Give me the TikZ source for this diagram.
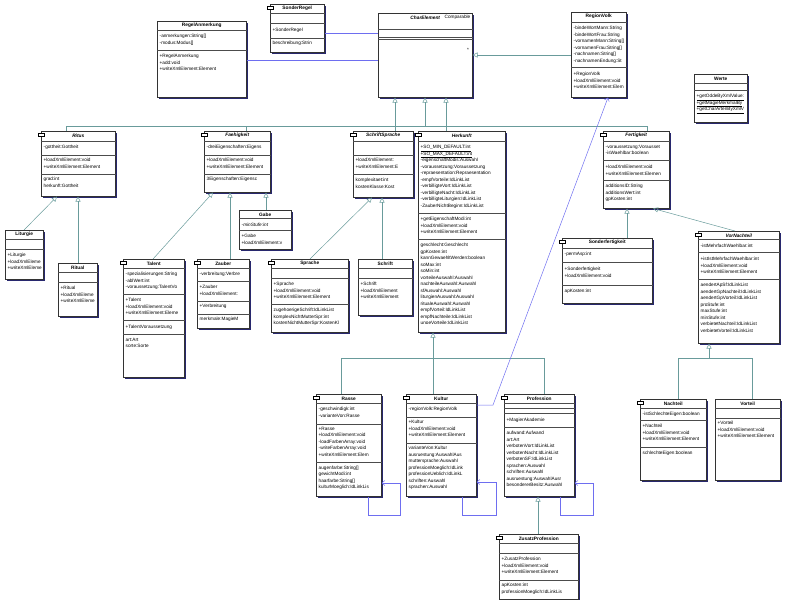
\documentclass[tikz,border=0pt]{standalone}
\usepackage{fontspec}
\setmainfont{Liberation Sans}
\usetikzlibrary{arrows.meta,shadows}
\definecolor{erbfarbe}{RGB}{105,155,155}
\definecolor{assfarbe}{RGB}{110,110,240}
\definecolor{schatten}{RGB}{40,40,110}

\tikzset{
  box/.style={draw=black!80, fill=white, line width=0.5pt, inner sep=0pt, anchor=north west,
    drop shadow={shadow xshift=1.3pt, shadow yshift=-1.3pt, fill=schatten, opacity=1}},
  titel/.style={font=\fontsize{4.8}{5.5}\selectfont\bfseries, inner sep=0pt},
  zeile/.style={anchor=north west, inner sep=0pt, align=left, font=\fontsize{4.7}{6.5}\selectfont},
  trennlinie/.style={draw=black!70, line width=0.4pt},
  erbt/.style={draw=erbfarbe, line width=0.5pt, -{Triangle[open,length=5pt,width=5pt]}},
  linie/.style={draw=erbfarbe, line width=0.5pt},
  assoz/.style={draw=assfarbe, line width=0.5pt},
  pfeil/.style={assoz, -{Straight Barb[length=3pt,width=5pt]}}
}
% Klasse: Name, x0, y0, x1, y1, Titel
\newcommand\klasse[6]{%
  \node[box, minimum width={(#4-#2)*1pt}, minimum height={(#5-#3)*1pt}] (#1) at (#2,#3) {};
  \node[titel] (#1-t) at ([yshift=-4.6pt]#1.north) {#6};}
\newcommand\trenn[2]{\draw[trennlinie] (#1.west |- 0,#2) -- (#1.east |- 0,#2);}
\newcommand\zeilen[4]{\node[zeile, xshift=2.5pt] (#1-#2) at (#1.west |- 0,#3) {#4};}
\newcommand\paket[1]{\draw[fill=white, line width=0.4pt] ([xshift=-2.5pt,yshift=-2pt]#1.north west) rectangle ++(6pt,-3.5pt);}

\begin{document}
\begin{tikzpicture}[x=1pt, y=-1pt]
\useasboundingbox (0,0) rectangle (785,600);

% obere Reihe
\klasse{regelanm}{157}{21}{246}{97}{RegelAnmerkung}
\trenn{regelanm}{30} \trenn{regelanm}{50}
\zeilen{regelanm}{a}{34}{-anmerkungen:String[]\\-modus:Modus[]}
\zeilen{regelanm}{m}{54}{+RegelAnmerkung\\+add:void\\+writeXmlElement:Element}

\klasse{sonderregel}{270}{4}{324}{52}{SonderRegel}
\paket{sonderregel}
\trenn{sonderregel}{13} \trenn{sonderregel}{23} \trenn{sonderregel}{38}
\zeilen{sonderregel}{m}{27.5}{+SonderRegel}
\zeilen{sonderregel}{a}{40.5}{beschreibung:Strin}

\klasse{charelement}{378}{13}{472}{97}{\itshape CharElement}
\node[zeile, anchor=north east, xshift=-2pt, yshift=-1.5pt] (charelement-c) at (charelement.north east) {Comparable};
\trenn{charelement}{29} \trenn{charelement}{37} \trenn{charelement}{39}
\node[zeile] (charelement-s) at (467,48) {*};

\klasse{regionvolk}{571}{12}{626}{97}{RegionVolk}
\trenn{regionvolk}{22} \trenn{regionvolk}{67}
\zeilen{regionvolk}{a}{26}{-bindeWortMann:String\\-bindeWortFrau:String\\-vornamenMann:String[]\\-vornamenFrau:String[]\\-nachnamen:String[]\\-nachnamenEndung:St}
\zeilen{regionvolk}{m}{72}{+RegionVolk\\+loadXmlElement:void\\+writeXmlElement:Elem}

\klasse{werte}{694}{74}{747}{122}{Werte}
\trenn{werte}{83} \trenn{werte}{90}
\zeilen{werte}{m}{94}{\underline{+getOddeByXmlValue:}\\\underline{+getMagieMerkmalBy}\\\underline{+getCharArtenByXmlV}}

% zweite Reihe
\klasse{ritus}{41}{131}{115}{196}{\itshape Ritus}
\paket{ritus}
\trenn{ritus}{141} \trenn{ritus}{155} \trenn{ritus}{174}
\zeilen{ritus}{a}{145}{-gottheit:Gottheit}
\zeilen{ritus}{m}{158}{+loadXmlElement:void\\+writeXmlElement:Element}
\zeilen{ritus}{p}{177}{grad:int\\herkunft:Gottheit}

\klasse{faehigkeit}{204}{131}{270}{192}{\itshape Faehigkeit}
\paket{faehigkeit}
\trenn{faehigkeit}{141} \trenn{faehigkeit}{155} \trenn{faehigkeit}{174}
\zeilen{faehigkeit}{a}{145}{-dreiEigenschaften:Eigens}
\zeilen{faehigkeit}{m}{158}{+loadXmlElement:void\\+writeXmlElement:Element}
\zeilen{faehigkeit}{p}{177}{3Eigenschaften:Eigensc}

\klasse{gabe}{239}{210}{291}{249}{Gabe}
\trenn{gabe}{218} \trenn{gabe}{230}
\zeilen{gabe}{a}{222.5}{\itshape -minStufe:int}
\zeilen{gabe}{m}{234}{+Gabe\\+loadXmlElement:v}

\klasse{schriftspr}{353}{131}{413}{197}{\itshape SchriftSprache}
\paket{schriftspr}
\trenn{schriftspr}{141} \trenn{schriftspr}{155} \trenn{schriftspr}{174}
\zeilen{schriftspr}{m}{158}{+loadXmlElement:\\+writeXmlElement:E}
\zeilen{schriftspr}{p}{178}{komplexitaet:int\\kostenKlasse:Kost}

\klasse{herkunft}{418}{131}{505}{332}{\itshape Herkunft}
\paket{herkunft}
\trenn{herkunft}{141} \trenn{herkunft}{213} \trenn{herkunft}{239}
\zeilen{herkunft}{a}{145}{\underline{+SO\_MIN\_DEFAULT:int}\\\underline{+SO\_MAX\_DEFAULT:int}\\-eigenschaftModis:Auswahl\\-voraussetzung:Voraussetzung\\-repraesentation:Repraesentation\\-empfVorteile:IdLinkList\\-verbilligteVort:IdLinkList\\-verbilligteNacht:IdLinkList\\-verbilligteLiturgien:IdLinkList\\-ZauberNichtBeginn:IdLinkList}
\zeilen{herkunft}{m}{217}{+getEigenschaftModi:int\\+loadXmlElement:void\\+writeXmlElement:Element}
\zeilen{herkunft}{p}{243}{geschlecht:Geschlecht\\gpKosten:int\\kannGewaehltWerden:boolean\\soMax:int\\soMin:int\\vorteileAuswahl:Auswahl\\nachteileAuswahl:Auswahl\\sfAuswahl:Auswahl\\liturgienAuswahl:Auswahl\\ritualeAuswahl:Auswahl\\empfVorteil:IdLinkList\\empfNachteile:IdLinkList\\unoeVorteile:IdLinkList}

\klasse{fertigkeit}{603}{131}{669}{208}{\itshape Fertigkeit}
\paket{fertigkeit}
\trenn{fertigkeit}{141} \trenn{fertigkeit}{160} \trenn{fertigkeit}{180}
\zeilen{fertigkeit}{a}{145}{-voraussetzung:Vorausset\\-isWaehlbar:boolean}
\zeilen{fertigkeit}{m}{165}{+loadXmlElement:void\\+writeXmlElement:Elemen}
\zeilen{fertigkeit}{p}{184}{additionsID:String\\additionsWert:int\\gpKosten:int}

\klasse{sonderfert}{562}{238}{652}{303}{Sonderfertigkeit}
\paket{sonderfert}
\trenn{sonderfert}{248} \trenn{sonderfert}{262} \trenn{sonderfert}{285}
\zeilen{sonderfert}{a}{252}{-permAsp:int}
\zeilen{sonderfert}{m}{267}{+Sonderfertigkeit\\+loadXmlElement:void}
\zeilen{sonderfert}{p}{289}{apKosten:int}

\klasse{vornachteil}{698}{231}{779}{343}{\itshape VorNachteil}
\paket{vornachteil}
\trenn{vornachteil}{239} \trenn{vornachteil}{252} \trenn{vornachteil}{279}
\zeilen{vornachteil}{a}{244}{-istMehrfachWaehlbar:int}
\zeilen{vornachteil}{m}{257}{+istIstMehrfachWaehlbar:int\\+loadXmlElement:void\\+writeXmlElement:Element}
\zeilen{vornachteil}{p}{283}{aendertApSf:IdLinkList\\aendertGpNachteil:IdLinkList\\aendertGpVorteil:IdLinkList\\proStufe:int\\maxStufe:int\\minStufe:int\\verbietetNachteil:IdLinkList\\verbietetVorteil:IdLinkList}

% dritte Reihe
\klasse{liturgie}{5}{230}{43}{279}{Liturgie}
\trenn{liturgie}{239} \trenn{liturgie}{249}
\zeilen{liturgie}{m}{253}{+Liturgie\\+loadXmlEleme\\+writeXmlEleme}

\klasse{ritual}{58}{263}{97}{316}{Ritual}
\trenn{ritual}{272} \trenn{ritual}{282}
\zeilen{ritual}{m}{286}{+Ritual\\+loadXmlEleme\\+writeXmlEleme}

\klasse{talent}{123}{259}{184}{377}{Talent}
\paket{talent}
\trenn{talent}{268} \trenn{talent}{294} \trenn{talent}{320} \trenn{talent}{334}
\zeilen{talent}{a}{272}{-spezialisierungen:String\\-ablWert:int\\-voraussetzung:TalentVo}
\zeilen{talent}{m}{298}{+Talent\\+loadXmlElement:void\\+writeXmlElement:Eleme}
\zeilen{talent}{v}{325}{+TalentVoraussetzung}
\zeilen{talent}{p}{338}{art:Art\\sorte:Sorte}

\klasse{zauber}{197}{259}{249}{328}{Zauber}
\paket{zauber}
\trenn{zauber}{268} \trenn{zauber}{281} \trenn{zauber}{301} \trenn{zauber}{314}
\zeilen{zauber}{a}{272}{-verbreitung:Verbre}
\zeilen{zauber}{m}{285}{+Zauber\\+loadXmlElement:}
\zeilen{zauber}{v}{304}{+Verbreitung}
\zeilen{zauber}{p}{317}{merkmale:MagieM}

\klasse{sprache}{271}{259}{348}{332}{Sprache}
\paket{sprache}
\trenn{sprache}{268} \trenn{sprache}{278} \trenn{sprache}{304}
\zeilen{sprache}{m}{282}{+Sprache\\+loadXmlElement:void\\+writeXmlElement:Element}
\zeilen{sprache}{p}{308}{zugehoerigeSchrift:IdLinkList\\komplexNichtMutterSpr:int\\kostenNichtMutterSpr:KostenKl}

\klasse{schrift}{358}{259}{412}{315}{Schrift}
\trenn{schrift}{268} \trenn{schrift}{278}
\zeilen{schrift}{m}{282}{+Schrift\\+loadXmlElement\\+writeXmlElement}

% vierte Reihe
\klasse{rasse}{316}{394}{381}{496}{Rasse}
\paket{rasse}
\trenn{rasse}{403} \trenn{rasse}{424} \trenn{rasse}{462}
\zeilen{rasse}{a}{407}{-geschwindigk:int\\-varianteVon:Rasse}
\zeilen{rasse}{m}{427}{+Rasse\\+loadXmlElement:void\\-loadFarbenArray:void\\-writeFarbenArray:void\\+writeXmlElement:Elem}
\zeilen{rasse}{p}{465.5}{augenfarbe:String[]\\gewichtModi:int\\haarfarbe:String[]\\kulturMoeglich:IdLinkLis}

\klasse{kultur}{406}{394}{476}{496}{Kultur}
\paket{kultur}
\trenn{kultur}{403} \trenn{kultur}{417} \trenn{kultur}{443}
\zeilen{kultur}{a}{407}{-regionVolk:RegionVolk}
\zeilen{kultur}{m}{420}{+Kultur\\+loadXmlElement:void\\+writeXmlElement:Element}
\zeilen{kultur}{p}{446}{varianteVon:Kultur\\ausruestung:AuswahlAus\\muttersprache:Auswahl\\professionMoeglich:IdLink\\professionUeblich:IdLinkL\\schriften:Auswahl\\sprachen:Auswahl}

\klasse{profession}{504}{394}{574}{496}{Profession}
\paket{profession}
\trenn{profession}{403} \trenn{profession}{408} \trenn{profession}{413} \trenn{profession}{427}
\zeilen{profession}{m}{418}{+MagierAkademie}
\zeilen{profession}{p}{431}{aufwand:Aufwand\\art:Art\\verbotenVort:IdLinkList\\verbotenNacht:IdLinkList\\verbotenSF:IdLinkList\\sprachen:Auswahl\\schriften:Auswahl\\ausruestung:AuswahlAusr\\besondererBesitz:Auswahl}

\klasse{zusatzprof}{499}{534}{578}{599}{ZusatzProfession}
\paket{zusatzprof}
\trenn{zusatzprof}{543} \trenn{zusatzprof}{553} \trenn{zusatzprof}{580}
\zeilen{zusatzprof}{m}{557}{+ZusatzProfession\\+loadXmlElement:void\\+writeXmlElement:Element}
\zeilen{zusatzprof}{p}{583}{apKosten:int\\professionMoeglich:IdLinkLis}

\klasse{nachteil}{640}{399}{706}{480}{Nachteil}
\paket{nachteil}
\trenn{nachteil}{408} \trenn{nachteil}{420} \trenn{nachteil}{447}
\zeilen{nachteil}{a}{412}{-istSchlechteEigen:boolean}
\zeilen{nachteil}{m}{424}{+Nachteil\\+loadXmlElement:void\\+writeXmlElement:Element}
\zeilen{nachteil}{p}{451}{schlechteEigen:boolean}

\klasse{vorteil}{715}{399}{780}{480}{Vorteil}
\trenn{vorteil}{408} \trenn{vorteil}{418}
\zeilen{vorteil}{m}{421}{+Vorteil\\+loadXmlElement:void\\+writeXmlElement:Element}

% Vererbung
\coordinate (bus) at (425,126);
\draw[linie] (ritus.north -| 66,0) -- ++(0,-5) -| (fertigkeit.north -| 647,0);
\draw[linie] (faehigkeit.north -| 246,0) -- ++(0,-5);
\draw[erbt] (bus) -- (charelement.south -| bus);
\draw[erbt] (schriftspr.north -| 395,0) -- (charelement.south -| 395,0);
\draw[erbt] (herkunft.north -| 446,0) -- (charelement.south -| 446,0);
\draw[erbt] (regionvolk.west |- 0,55) -- (charelement.east |- 0,55);
\draw[erbt] (liturgie.north -| 24,0) -- (ritus.south -| 57,0);
\draw[erbt] (ritual.north -| 78,0) -- (ritus.south -| 78,0);
\draw[erbt] (talent.north -| 153,0) -- (faehigkeit.south -| 213,0);
\draw[erbt] (zauber.north -| 230,0) -- (faehigkeit.south -| 230,0);
\draw[erbt] (gabe.north -| 266,0) -- (faehigkeit.south -| 266,0);
\draw[erbt] (sprache.north -| 310,0) -- (schriftspr.south -| 372,0);
\draw[erbt] (schrift.north -| 382,0) -- (schriftspr.south -| 382,0);
\draw[erbt] (sonderfert.north -| 627,0) -- (fertigkeit.south -| 627,0);
\draw[erbt] (vornachteil.north -| 735,0) -- (fertigkeit.south -| 653,0);
\coordinate (hbus) at (433,358);
\draw[linie] (rasse.north -| 341,0) -- (341,358) -| (profession.north -| 544,0);
\draw[linie] (kultur.north -| hbus) -- (hbus);
\draw[erbt] (hbus) -- (herkunft.south -| hbus);
\coordinate (vbus) at (709,358);
\draw[linie] (nachteil.north -| 678,0) -- (678,358) -| (vorteil.north -| 752,0);
\draw[erbt] (vbus) -- (vornachteil.south -| vbus);
\draw[erbt] (zusatzprof.north -| 538,0) -- (profession.south -| 538,0);

% Assoziationen
\draw[assoz] (regelanm.east |- 0,60) -- (charelement.west |- 0,60);
\draw[assoz] (sonderregel.east |- 0,33) -- (charelement.west |- 0,33);
\draw[pfeil] (kultur.east |- 0,405) -- (493,405) -- (regionvolk.south -| 608,0);
\draw[pfeil] (rasse.south -| 368,0) -- (368,515) -| (400,483) -- (rasse.east |- 0,483);
\draw[pfeil] (kultur.south -| 462,0) -- (462,515) -| (496,482) -- (kultur.east |- 0,482);
\draw[pfeil] (profession.south -| 560,0) -- (560,515) -| (593,483) -- (profession.east |- 0,483);
\end{tikzpicture}
\end{document}
